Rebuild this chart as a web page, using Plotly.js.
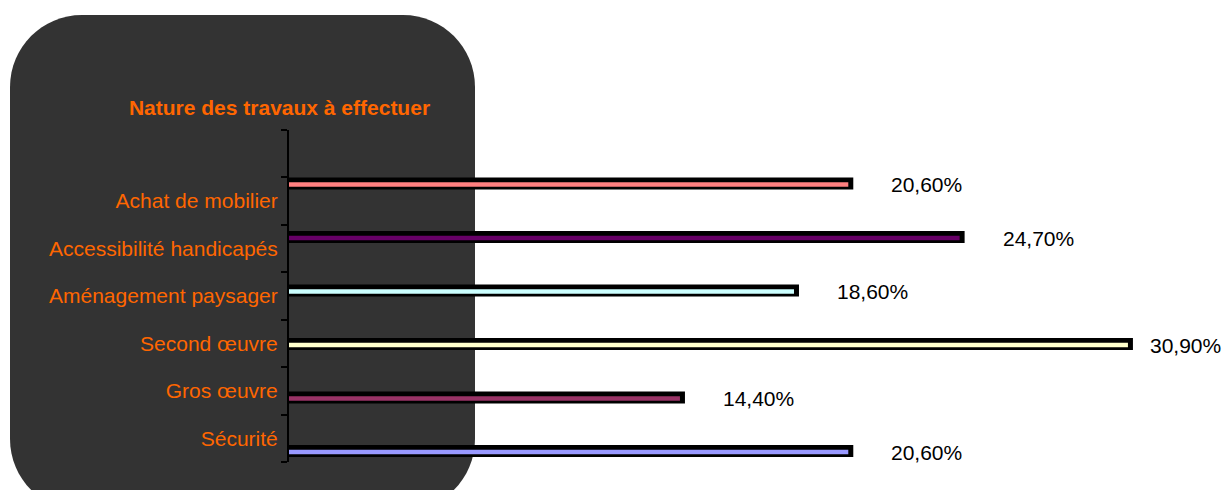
<!DOCTYPE html>
<html><head><meta charset="utf-8">
<script src="https://cdn.plot.ly/plotly-3.0.1.min.js"></script>
<style>html,body{margin:0;padding:0;background:#fff;overflow:hidden}</style>
</head><body><div id="chart" style="width:1225px;height:490px"></div>
<script>
const categories = ['Achat de mobilier','Accessibilité handicapés','Aménagement paysager','Second œuvre','Gros œuvre','Sécurité'];
const values = [20.6, 24.7, 18.6, 30.9, 14.4, 20.6];
const valueLabels = ['20,60%','24,70%','18,60%','30,90%','14,40%','20,60%'];
const barColors = ['#FF8080','#660066','#CCFFFF','#FFFFCC','#993366','#9999FF'];
const chartTitle = 'Nature des travaux à effectuer';

const W = 1225, H = 490;
const FONT = 'Liberation Sans, Arial, sans-serif';
const FS = 21;
const plotLeft = 289, pxPerUnit = 27.15;
const xMax = (W - plotLeft) / pxPerUnit;
const axTop = 130, axBottom = 462;
const firstBarPx = 184.5, barStep = 53.5;
const r0 = -(firstBarPx - axTop) / barStep;
const r1 = r0 + (axBottom - axTop) / barStep;
const pos = categories.map((_, i) => i);

const shadow = {
  type: 'bar', orientation: 'h', x: values.map(v => v + 5 / pxPerUnit), y: pos,
  width: 12 / barStep, offset: -7 / barStep,
  marker: {color: '#000000', line: {width: 0}}, hoverinfo: 'skip', showlegend: false
};
const front = {
  type: 'bar', orientation: 'h', x: values, y: pos,
  width: 4.4 / barStep, offset: -2.2 / barStep,
  marker: {color: barColors, line: {width: 0}}, hoverinfo: 'skip', showlegend: false
};

const px = x => x / W, py = y => 1 - y / H;
function roundRect(x0, y0, x1, y1, r) {
  const k = 0.5523 * r;
  const P = (x, y) => px(x) + ',' + py(y);
  return 'M' + P(x0 + r, y0) + ' L' + P(x1 - r, y0) +
    ' C' + P(x1 - r + k, y0) + ' ' + P(x1, y0 + r - k) + ' ' + P(x1, y0 + r) +
    ' L' + P(x1, y1 - r) +
    ' C' + P(x1, y1 - r + k) + ' ' + P(x1 - r + k, y1) + ' ' + P(x1 - r, y1) +
    ' L' + P(x0 + r, y1) +
    ' C' + P(x0 + r - k, y1) + ' ' + P(x0, y1 - r + k) + ' ' + P(x0, y1 - r) +
    ' L' + P(x0, y0 + r) +
    ' C' + P(x0, y0 + r - k) + ' ' + P(x0 + r - k, y0) + ' ' + P(x0 + r, y0) + ' Z';
}

const labelW = 74, labelGap = 41;
const annotations = values.map((v, i) => {
  const endPx = plotLeft + v * pxPerUnit;
  const fits = endPx + labelGap + labelW <= W - 2;
  return fits ? {
    xref: 'x', yref: 'y', x: v, y: i, xanchor: 'left', yanchor: 'middle', xshift: labelGap,
    text: valueLabels[i], showarrow: false, font: {family: FONT, size: FS, color: '#000'}
  } : {
    xref: 'paper', yref: 'y', x: 1, y: i, xanchor: 'right', yanchor: 'middle', xshift: -2,
    text: valueLabels[i], showarrow: false, font: {family: FONT, size: FS, color: '#000'}
  };
});

const layout = {
  width: W, height: H,
  margin: {l: 0, r: 0, t: 0, b: 0, pad: 0},
  paper_bgcolor: '#ffffff', plot_bgcolor: 'rgba(0,0,0,0)',
  barmode: 'overlay', showlegend: false,
  title: {text: chartTitle, x: 279.5 / W, xref: 'paper', xanchor: 'center',
          y: py(108), yref: 'paper', yanchor: 'middle',
          font: {family: FONT, size: FS, color: '#FF6600', weight: 'bold'}},
  xaxis: {domain: [plotLeft / W, 1], range: [0, xMax], visible: false, fixedrange: true},
  yaxis: {domain: [py(axBottom), py(axTop)], range: [r1, r0], visible: false, fixedrange: true},
  yaxis2: {
    overlaying: 'y', anchor: 'x', side: 'left', domain: [py(axBottom), py(axTop)],
    range: [7, 0], showgrid: false, zeroline: false,
    showline: true, linecolor: '#000', linewidth: 2,
    tickmode: 'array', tickvals: pos.map(i => i + 1.5), ticktext: categories, ticks: '',
    ticklabelstandoff: 5,
    tickfont: {family: FONT, size: FS, color: '#FF6600'},
    minor: {tick0: 0, dtick: 1, ticks: 'outside', ticklen: 6, tickwidth: 2, tickcolor: '#000', showgrid: false}
  },
  shapes: [{type: 'path', xref: 'paper', yref: 'paper', layer: 'below',
            path: roundRect(10, 15, 475, 511, 72), fillcolor: '#333333', line: {width: 0}}],
  annotations: annotations
};

const dummy = {type: 'scatter', x: [null], y: [null], yaxis: 'y2', hoverinfo: 'skip', showlegend: false};
Plotly.newPlot('chart', [shadow, front, dummy], layout, {staticPlot: true, displayModeBar: false});
</script></body></html>
